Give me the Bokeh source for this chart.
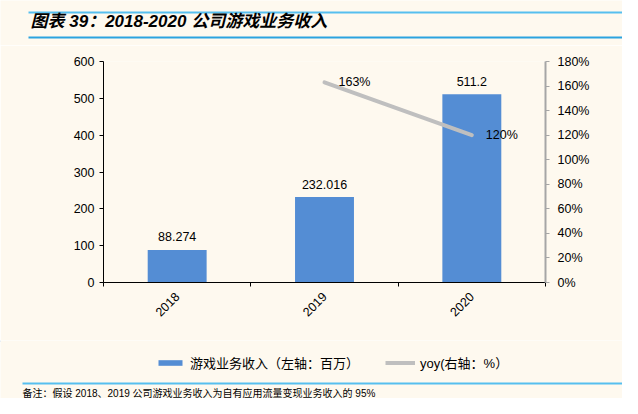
from bokeh.plotting import figure
from bokeh.layouts import column
from bokeh.models import (Range1d, LinearAxis, FixedTicker, NumeralTickFormatter,
                          ColumnDataSource, Legend, LegendItem)
from bokeh.embed import file_html
from bokeh.resources import INLINE
from bokeh.core.properties import value
import math

# ---- data ----
years = ["2018", "2019", "2020"]
revenue = [88.274, 232.016, 511.2]
revenue_labels = ["88.274", "232.016", "511.2"]
yoy_years = ["2019", "2020"]
yoy = [1.63, 1.20]
yoy_labels = ["163%", "120%"]
left_ticks = [0, 100, 200, 300, 400, 500, 600]
right_ticks = [0, 0.2, 0.4, 0.6, 0.8, 1.0, 1.2, 1.4, 1.6, 1.8]

title_text = "图表 39：2018-2020 公司游戏业务收入"
note_text = "备注：假设 2018、2019 公司游戏业务收入为自有应用流量变现业务收入的 95%"
bar_legend = "游戏业务收入（左轴：百万）"
line_legend = "yoy(右轴：%）"

BG = "#FEF9EF"
BAR_COLOR = "#548DD4"
LINE_COLOR = "#BFBFBF"
NUM_FONT = "Liberation Sans"
CJK_FONT = "Liberation Sans, Noto Sans CJK SC"

xpos = {y: i + 0.5 for i, y in enumerate(years)}

W = 622
TOP_H, MAIN_H, BOT_H = 45, 295, 58
FL, FR, FT, FB = 103, 545, 61, 282   # frame edges in page pixels


def blank_fig(h):
    f = figure(width=W, height=h, output_backend="svg", toolbar_location=None,
               x_range=Range1d(0, W), y_range=Range1d(h, 0),
               x_axis_type=None, y_axis_type=None, min_border=0)
    f.background_fill_color = BG
    f.border_fill_color = BG
    f.outline_line_color = None
    f.xgrid.visible = False
    f.ygrid.visible = False
    return f


# ---- header: title and two rules ----
top = blank_fig(TOP_H)
top.segment(x0=[28, 28], y0=[12, 37], x1=[W, W], y1=[12, 37],
            line_color=["#56BFEF", "#2BA3E0"], line_width=2)
top.text(x=[30], y=[20.5], text=[title_text], text_font=value(CJK_FONT),
         text_font_size="17px", text_font_style="bold italic", text_baseline="middle",
         text_color="#000000")

# ---- main chart ----
p = figure(width=W, height=MAIN_H, output_backend="svg", toolbar_location=None,
           x_range=Range1d(0, len(years)), y_range=Range1d(0, 600),
           min_border_left=FL, min_border_right=W - FR, min_border_top=FT - TOP_H,
           min_border_bottom=TOP_H + MAIN_H - FB)
p.background_fill_color = BG
p.border_fill_color = BG
p.outline_line_color = None
p.xgrid.visible = False
p.ygrid.visible = False

p.extra_y_ranges = {"yoy": Range1d(0, 1.8)}

bar_src = ColumnDataSource(dict(x=[xpos[y] for y in years], top=revenue, lab=revenue_labels))
bars = p.vbar(x="x", top="top", width=0.4, source=bar_src, fill_color=BAR_COLOR, line_color=None)
p.text(x="x", y="top", text="lab", source=bar_src, text_align="center", text_baseline="alphabetic",
       y_offset=-13, text_font=value(NUM_FONT), text_font_size="12.5px", text_color="#000000")

line_src = ColumnDataSource(dict(x=[xpos[y] for y in yoy_years], y=yoy, lab=yoy_labels))
ln = p.line(x="x", y="y", source=line_src, y_range_name="yoy", line_color=LINE_COLOR,
            line_width=4, line_cap="round")
p.text(x="x", y="y", text="lab", source=line_src, y_range_name="yoy", text_align="left",
       text_baseline="middle", x_offset=14, text_font=value(NUM_FONT), text_font_size="12.5px",
       text_color="#000000")

# x axis
xa = p.xaxis[0]
xa.ticker = FixedTicker(ticks=[xpos[y] for y in years], minor_ticks=list(range(len(years) + 1)))
xa.major_label_overrides = {xpos[y]: y for y in years}
xa.major_label_orientation = math.pi / 4
xa.major_tick_out = 0
xa.major_tick_in = 0
xa.minor_tick_out = 4
xa.minor_tick_in = 0
xa.minor_tick_line_color = "#000000"
xa.axis_line_color = "#000000"
xa.major_label_text_font = NUM_FONT
xa.major_label_text_font_size = "12.5px"
xa.major_label_text_color = "#000000"
xa.major_label_standoff = 8

# left axis
ya = p.yaxis[0]
ya.ticker = FixedTicker(ticks=left_ticks)
ya.major_tick_out = 4
ya.major_tick_in = 0
ya.minor_tick_out = 0
ya.minor_tick_in = 0
ya.axis_line_color = "#000000"
ya.major_tick_line_color = "#000000"
ya.major_label_text_font = NUM_FONT
ya.major_label_text_font_size = "12.5px"
ya.major_label_text_color = "#000000"
ya.major_label_standoff = 5

# right axis
ra = LinearAxis(y_range_name="yoy", ticker=FixedTicker(ticks=right_ticks),
                formatter=NumeralTickFormatter(format="0%"))
ra.major_tick_out = 4
ra.major_tick_in = 0
ra.minor_tick_out = 0
ra.minor_tick_in = 0
ra.axis_line_color = "#A6A6A6"
ra.axis_line_width = 2
ra.major_tick_line_color = "#A6A6A6"
ra.major_label_text_font = NUM_FONT
ra.major_label_text_font_size = "12.5px"
ra.major_label_text_color = "#000000"
ra.major_label_standoff = 8
p.add_layout(ra, "right")

# ---- footer: legend, rule, note ----
bot = blank_fig(BOT_H)
# swatch renderers for the legend (their single point lies outside the view)
leg_bar = bot.vbar(x=[-100], top=[1], width=1, fill_color=BAR_COLOR, line_color=None)
leg_line = bot.line(x=[-100, -90], y=[1, 1], line_color=LINE_COLOR, line_width=4)
legend = Legend(items=[LegendItem(label=bar_legend, renderers=[leg_bar]),
                       LegendItem(label=line_legend, renderers=[leg_line])],
                orientation="horizontal", location=(155, BOT_H - (372 - TOP_H - MAIN_H)),
                glyph_width=30, glyph_height=7, label_standoff=5, spacing=26,
                padding=0, margin=0, border_line_color=None, background_fill_alpha=0,
                label_text_font=CJK_FONT, label_text_font_size="13px",
                label_text_color="#000000")
bot.add_layout(legend, "center")
y0 = TOP_H + MAIN_H
bot.segment(x0=[22], y0=[383 - y0], x1=[W], y1=[383 - y0], line_color="#56BFEF", line_width=2)
bot.text(x=[22], y=[392.5 - y0], text=[note_text], text_font=value(CJK_FONT),
         text_font_size="10px", text_baseline="middle", text_color="#000000")

for f in (top, p, bot):
    try:
        f.frame_align = False
    except Exception:
        pass

layout = column(top, p, bot, spacing=0)
open("out.html", "w").write(file_html(layout, INLINE))
